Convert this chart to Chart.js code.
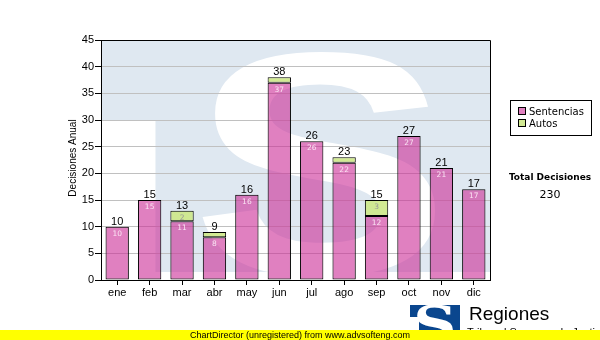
<!DOCTYPE html>
<html>
<head>
<meta charset="utf-8">
<script src="https://cdn.jsdelivr.net/npm/chart.js@4.4.1/dist/chart.umd.min.js"></script>
<style>
  html, body { margin: 0; padding: 0; background: #fff; }
  #wrap { position: relative; width: 600px; height: 340px; overflow: hidden; }
  #c { position: absolute; left: 0; top: 0; }
  #legend {
    position: absolute; left: 510px; top: 100px; width: 80px; height: 34px;
    border: 1px solid #000; background: #fff;
    font: 10px "DejaVu Sans", Verdana, sans-serif; color: #000;
  }
  #legend .item { position: absolute; left: 7px; height: 12px; line-height: 12px; white-space: nowrap; }
  #legend .sw { display: inline-block; width: 6px; height: 6px; border: 1px solid #000; margin-right: 3px; vertical-align: 0px; }
  #total { position: absolute; left: 500px; top: 171px; width: 100px; text-align: center; color: #000; }
  #total .t { font: bold 9px "DejaVu Sans", Verdana, sans-serif; line-height: 12px; }
  #total .v { font: 11px "DejaVu Sans", Verdana, sans-serif; line-height: 14px; margin-top: 5px; }
  #logo { position: absolute; left: 410px; top: 305px; width: 50px; height: 35px; overflow: hidden; background: #0a468e; }
  #logo .s { position: absolute; left: 0; top: -9px; width: 50px; text-align: center;
    font: bold 48px "DejaVu Serif", serif; color: #fff; line-height: 56px; transform: scaleX(1.25); }
  #logo .n { position: absolute; left: 0; top: 12px; width: 9px; height: 30px; background: #fff; }
  #brand { position: absolute; left: 469px; top: 302px; font: 19px "Liberation Sans", Arial, sans-serif; color: #000; line-height: 24px; }
  #sub { position: absolute; left: 467px; top: 326px; font: 11px "Liberation Sans", Arial, sans-serif; color: #000; line-height: 12px; white-space: nowrap; }
  #bar { position: absolute; left: 0; top: 330px; width: 600px; height: 10px; background: #ffff00; z-index: 5; }
  #bar span { position: absolute; left: 190px; top: -1px; font: 9px "Liberation Sans", Arial, sans-serif; color: #000; line-height: 12px; white-space: nowrap; }
</style>
</head>
<body>
<div id="wrap">
  <canvas id="c" width="600" height="340"></canvas>
  <div id="legend"></div>
  <div id="total"><div class="t">Total Decisiones</div><div class="v" id="totalValue"></div></div>
  <div id="logo"><div class="s">S</div><div class="n"></div></div>
  <div id="brand">Regiones</div>
  <div id="sub">Tribunal Supremo de Justicia</div>
  <div id="bar"><span>ChartDirector (unregistered) from www.advsofteng.com</span></div>
</div>
<script>
// Monthly decisions, split by type
const months = ['ene', 'feb', 'mar', 'abr', 'may', 'jun', 'jul', 'ago', 'sep', 'oct', 'nov', 'dic'];
const sentencias = [10, 15, 11, 8, 16, 37, 26, 22, 12, 27, 21, 17];
const autos = [0, 0, 2, 1, 0, 1, 0, 1, 3, 0, 0, 0];
const seriesNames = ['Sentencias', 'Autos'];
const axisTitle = 'Decisiones Anual';
const yMax = 45;
const yStep = 5;

const fill = ['rgba(203, 43, 150, 0.6)', 'rgba(205, 232, 135, 0.9)'];
const swatch = ['#e080c0', '#d2ea94'];
const innerText = ['#fbe4f3', '#9a9a9a'];
const sans = '"Liberation Sans", Arial, sans-serif';
const smallFont = '"DejaVu Sans", Verdana, sans-serif';

// Legend and yearly total
const legend = document.getElementById('legend');
seriesNames.forEach((name, k) => {
  const it = document.createElement('div');
  it.className = 'item';
  it.style.top = (5 + k * 12) + 'px';
  it.innerHTML = '<span class="sw" style="background:' + swatch[k] + '"></span>' + name;
  legend.appendChild(it);
});
const grandTotal = sentencias.reduce((a, v, i) => a + v + autos[i], 0);
document.getElementById('totalValue').textContent = grandTotal;

// Pale logo behind the plot area
const watermark = {
  id: 'watermark',
  beforeDraw(chart) {
    const { ctx, chartArea: a } = chart;
    const w = a.right - a.left, h = a.bottom - a.top;
    ctx.save();
    ctx.beginPath();
    ctx.rect(a.left, a.top, w, h);
    ctx.clip();
    ctx.fillStyle = '#dfe8f1';
    ctx.fillRect(a.left, a.top, w, h);
    ctx.fillStyle = '#ffffff';
    ctx.fillRect(a.left, a.top + h * 0.335, w * 0.14, h);
    ctx.fillRect(a.left, a.bottom - 8, w, 8);
    ctx.translate(a.left + w * 0.565, a.bottom - 6);
    ctx.scale(1.22, 1);
    ctx.font = 'bold 318px "Liberation Sans", Arial, sans-serif';
    ctx.textAlign = 'center';
    ctx.textBaseline = 'alphabetic';
    ctx.fillText('S', 0, 0);
    ctx.restore();
  }
};

// Frame, axis title and value labels
const overlay = {
  id: 'overlay',
  afterDatasetsDraw(chart) {
    const { ctx, chartArea: a, scales } = chart;
    ctx.save();
    ctx.strokeStyle = '#000';
    ctx.lineWidth = 1;
    ctx.beginPath();
    ctx.moveTo(Math.round(a.left) + 0.5, Math.round(a.top) + 0.5);
    ctx.lineTo(Math.round(a.right) + 0.5, Math.round(a.top) + 0.5);
    ctx.lineTo(Math.round(a.right) + 0.5, Math.round(a.bottom) + 0.5);
    ctx.stroke();

    ctx.textAlign = 'center';
    months.forEach((m, i) => {
      const total = sentencias[i] + autos[i];
      const x = scales.x.getPixelForValue(i);
      ctx.fillStyle = '#000';
      ctx.font = '11px ' + sans;
      ctx.textBaseline = 'alphabetic';
      ctx.fillText(String(total), x, scales.y.getPixelForValue(total) - 2);

      [sentencias, autos].forEach((series, d) => {
        const v = series[i];
        if (!v) return;
        const el = chart.getDatasetMeta(d).data[i];
        if (Math.abs(el.base - el.y) < 9) return;
        ctx.fillStyle = innerText[d];
        ctx.font = '7.5px ' + smallFont;
        ctx.textBaseline = 'middle';
        ctx.fillText(String(v), el.x, el.y + 7);
      });
    });

    ctx.translate(73, (a.top + a.bottom) / 2 - 2);
    ctx.rotate(-Math.PI / 2);
    ctx.fillStyle = '#000';
    ctx.font = '10px ' + sans;
    ctx.textBaseline = 'middle';
    ctx.fillText(axisTitle, 0, 0);
    ctx.restore();
  }
};

new Chart(document.getElementById('c'), {
  type: 'bar',
  data: {
    labels: months,
    datasets: [sentencias, autos].map((series, d) => ({
      label: seriesNames[d],
      data: series,
      backgroundColor: fill[d],
      borderColor: '#000',
      borderWidth: 1,
      borderSkipped: false,
      categoryPercentage: 1,
      barPercentage: 0.72,
      stack: 'total'
    }))
  },
  options: {
    responsive: false,
    animation: false,
    devicePixelRatio: 1,
    layout: { padding: { left: 0, top: 40, right: 110, bottom: 40 } },
    plugins: { legend: { display: false }, tooltip: { enabled: false } },
    scales: {
      x: {
        stacked: true,
        grid: { display: true, drawOnChartArea: false, offset: false, color: '#000', tickLength: 5 },
        border: { color: '#000', width: 1 },
        ticks: { color: '#000', font: { family: sans, size: 11 }, padding: 1, maxRotation: 0 },
        afterFit(s) { s.height = 20; }
      },
      y: {
        stacked: true,
        min: 0,
        max: yMax,
        grid: { color: '#c0c0c0', tickColor: '#000', tickLength: 6 },
        border: { color: '#000', width: 1 },
        ticks: { stepSize: yStep, color: '#000', font: { family: sans, size: 11 }, padding: 1 },
        afterFit(s) { s.width = 101; }
      }
    }
  },
  plugins: [watermark, overlay]
});
</script>
</body>
</html>
